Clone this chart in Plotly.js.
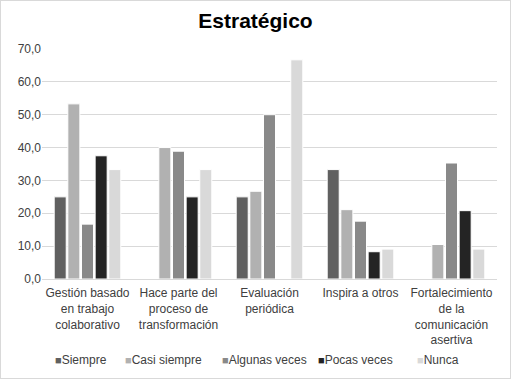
<!DOCTYPE html>
<html><head><meta charset="utf-8">
<script src="https://cdn.plot.ly/plotly-3.0.1.min.js"></script>
<style>html,body{margin:0;padding:0;background:#fff}#c{width:509px;height:377px;border:1px solid #d9d9d9}</style>
</head><body><div id="c"></div>
<script>
const categories = ["Gestión basado<br>en trabajo<br>colaborativo","Hace parte del<br>proceso de<br>transformación","Evaluación<br>periódica","Inspira a otros","Fortalecimiento<br>de la<br>comunicación<br>asertiva"];
const seriesNames = ["Siempre","Casi siempre","Algunas veces","Pocas veces","Nunca"];
const siempre = [25.0, 0, 25.0, 33.3, 0];
const casiSiempre = [53.3, 40.0, 26.7, 21.1, 10.5];
const algunasVeces = [16.7, 38.9, 50.0, 17.6, 35.3];
const pocasVeces = [37.5, 25.0, 0, 8.3, 20.8];
const nunca = [33.3, 33.3, 66.7, 9.1, 9.1];
const colors = ["#606060","#b1b1b1","#898989","#242424","#d9d9d9"];
const values = [siempre, casiSiempre, algunasVeces, pocasVeces, nunca];
const traces = values.map((v,i)=>({type:"bar",name:seriesNames[i],x:categories,y:v,
  marker:{color:colors[i],line:{color:"#ffffff",width:1}},hoverinfo:"y",showlegend:false}));
// legend entries (layout positions, in px of the page)
const legendPx = [53, 123, 220, 316, 415];
const plotL = 42, plotW = 455, plotB = 279, plotH = 230;
const legendAnn = seriesNames.map((n,i)=>({
  xref:"paper",yref:"paper",x:(legendPx[i]-plotL)/plotW,y:(plotB-360)/plotH,
  xanchor:"left",yanchor:"middle",showarrow:false,
  text:"<span style='color:"+colors[i]+";font-size:11px'>■</span>"+n,
  font:{size:12,color:"#404040"}
}));
const layout = {
  width:509,height:377,
  margin:{l:41,r:13,t:48,b:99},
  paper_bgcolor:"#fff",plot_bgcolor:"#fff",
  font:{family:"Liberation Sans, Arial, sans-serif",size:12,color:"#404040"},
  separators:",.",
  title:{text:"<b>Estratégico</b>",font:{size:21,color:"#000"},x:0.5,xanchor:"center",y:0.947,yanchor:"middle",yref:"container"},
  barmode:"group",bargap:0.25,bargroupgap:0.12,
  xaxis:{showgrid:false,showline:true,linecolor:"#d9d9d9",ticks:"",tickangle:0,ticklabelstandoff:3,tickfont:{size:12,color:"#404040"}},
  yaxis:{range:[0,70],dtick:10,tickformat:".1f",showgrid:true,gridcolor:"#d9d9d9",zeroline:false,showline:false,ticks:"",tickfont:{size:12,color:"#404040"}},
  showlegend:false,
  annotations:legendAnn
};
Plotly.newPlot("c",traces,layout,{displayModeBar:false,staticPlot:true});
</script></body></html>
